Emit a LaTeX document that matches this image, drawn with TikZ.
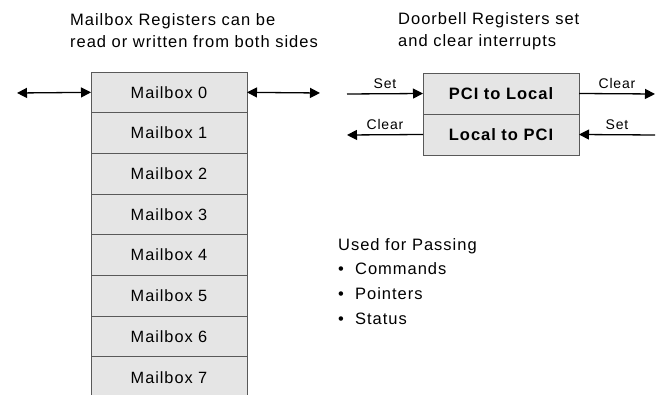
\documentclass[tikz,border=0pt]{standalone}
\usepackage{fontspec}
\setmainfont{Liberation Sans}[LetterSpace=6]
\usetikzlibrary{arrows.meta, positioning}

\begin{document}
\begin{tikzpicture}[x=1pt, y=-1pt,
		regnode/.style={rectangle, draw=black!65, fill=black!10, line width=0.8pt, outer sep=0pt, minimum width=156pt, minimum height=40.7pt, inner sep=0pt, font=\fontsize{16.3}{19}\selectfont},
		bellnode/.style={regnode, minimum height=41pt, font=\fontsize{16.5}{19}\selectfont\bfseries},
		sig/.style={-{Triangle[length=10pt, width=10pt]}, line width=1.3pt},
		bothsig/.style={{Triangle[length=10pt, width=10pt]}-{Triangle[length=10pt, width=10pt]}, line width=1.3pt},
		siglabel/.style={font=\fontsize{14}{16}\selectfont, inner sep=1pt},
	]
		\useasboundingbox (0,0) rectangle (665,395);
		\clip (0,0) rectangle (665,395);

		%Headers
		\node (mbtitle) [anchor=west, align=left, inner sep=0pt, font=\fontsize{16.5}{22}\selectfont] at (70,31)
			{Mailbox Registers can be\\ read or written from both sides};
		\node (dbtitle) [anchor=west, align=left, inner sep=0pt, font=\fontsize{16.5}{22}\selectfont] at (398,31)
			{Doorbell Registers set\\ and clear interrupts};

		%Mailbox stack
		\node (mb0) [regnode, anchor=north west] at (91,72) {Mailbox 0};
		\node (mb1) [regnode, below=0pt of mb0] {Mailbox 1};
		\node (mb2) [regnode, below=0pt of mb1] {Mailbox 2};
		\node (mb3) [regnode, below=0pt of mb2] {Mailbox 3};
		\node (mb4) [regnode, below=0pt of mb3] {Mailbox 4};
		\node (mb5) [regnode, below=0pt of mb4] {Mailbox 5};
		\node (mb6) [regnode, below=0pt of mb5] {Mailbox 6};
		\node (mb7) [regnode, below=0pt of mb6, minimum height=46pt, anchor=north, text depth=5pt] {Mailbox 7};

		%Doorbells
		\node (p2l) [bellnode, anchor=north west] at (423,73) {PCI to Local};
		\node (l2p) [bellnode, below=0pt of p2l] {Local to PCI};

		%Usage
		\node (usage) [anchor=north west, align=left, inner sep=0pt, font=\fontsize{16.5}{24.7}\selectfont] at (338,238)
			{Used for Passing\\ \textbullet\ \ Commands\\ \textbullet\ \ Pointers\\ \textbullet\ \ Status};

		%Lines
		\coordinate (mbleft) at (17,93);
		\coordinate (mbright) at (320,93);
		\draw[bothsig] (mbleft) -- (mb0.west);
		\draw[bothsig] (mb0.east) -- (mbright);

		\coordinate (setin) at (347,94);
		\coordinate (clearout) at (655,94);
		\coordinate (clearback) at (347,135);
		\coordinate (setback) at (655,135);
		\draw[sig] (setin) -- (p2l.west) node[siglabel, midway, above=3pt] {Set};
		\draw[sig] (p2l.east) -- (clearout) node[siglabel, midway, above=3pt] {Clear};
		\draw[sig] (l2p.west) -- (clearback) node[siglabel, midway, above=3pt] {Clear};
		\draw[sig] (setback) -- (l2p.east) node[siglabel, midway, above=3pt] {Set};
	\end{tikzpicture}
\end{document}
